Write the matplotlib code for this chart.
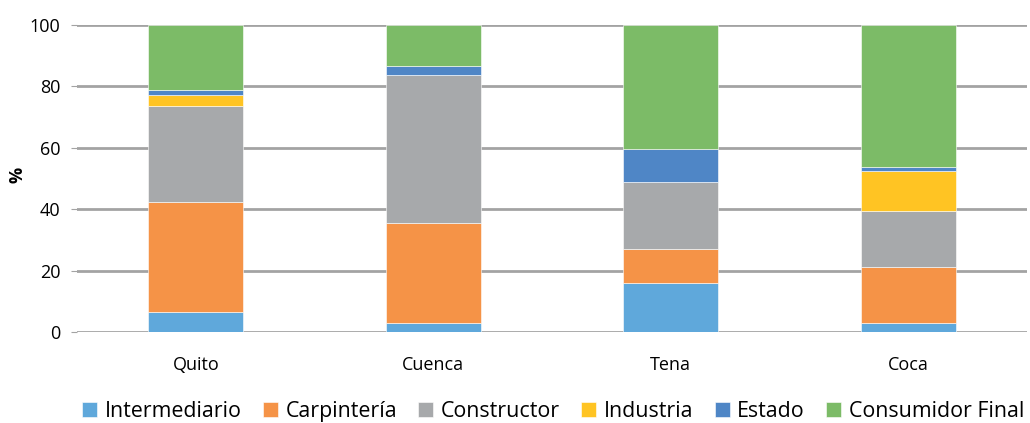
import matplotlib
matplotlib.use("Agg")
import matplotlib.pyplot as plt
import numpy as np

plt.rcParams['font.family'] = ['Open Sans', 'DejaVu Sans']

cities = ["Quito", "Cuenca", "Tena", "Coca"]
series_names = ["Intermediario", "Carpintería", "Constructor", "Industria", "Estado", "Consumidor Final"]
intermediario = [6.6, 2.8, 16.1, 2.8]
carpinteria = [35.8, 32.6, 10.9, 18.4]
constructor = [31.3, 48.3, 21.8, 18.1]
industria = [3.5, 0.0, 0.0, 13.1]
estado = [1.5, 3.0, 10.7, 1.2]
consumidor_final = [21.3, 13.3, 40.5, 46.4]
yticks = [0, 20, 40, 60, 80, 100]

colors = ["#5FA8DB", "#F59347", "#A7A9AB", "#FFC423", "#4F86C6", "#7CBB67"]
series = [intermediario, carpinteria, constructor, industria, estado, consumidor_final]

fig = plt.figure(figsize=(10.30, 4.23), dpi=100)
ax = fig.add_axes([0.075, 0.215, 0.922, 0.726])

x = np.arange(len(cities))
bottom = np.zeros(len(cities))
handles = []
for name, vals, col in zip(series_names, series, colors):
    b = ax.bar(x, vals, width=0.4, bottom=bottom, color=col, label=name,
               edgecolor='white', linewidth=0.4, zorder=3)
    handles.append(b)
    bottom += np.array(vals)

ax.set_xlim(-0.5, len(cities) - 0.5)
ax.set_ylim(0, 100)
ax.set_yticks(yticks)
ax.set_yticklabels([str(t) for t in yticks], fontsize=13)
ax.set_xticks(x)
ax.set_xticklabels(cities, fontsize=13)
ax.grid(axis='y', color='#A3A3A3', linewidth=2, zorder=0)
ax.tick_params(axis='y', length=4, color='#A3A3A3', pad=8)
ax.tick_params(axis='x', length=0, pad=17)
for s in ax.spines.values():
    s.set_visible(False)
ax.set_ylabel("%", fontsize=13, fontweight='bold')
ax.yaxis.set_label_coords(-0.053, 0.51)

fig.legend(handles=handles, labels=series_names, loc='center', ncol=6,
           bbox_to_anchor=(0.537, 0.028), frameon=False, fontsize=15.4,
           handlelength=0.7, handleheight=0.7, handletextpad=0.35,
           columnspacing=1.0, borderpad=0.1)

fig.savefig("out.png", dpi=100)
